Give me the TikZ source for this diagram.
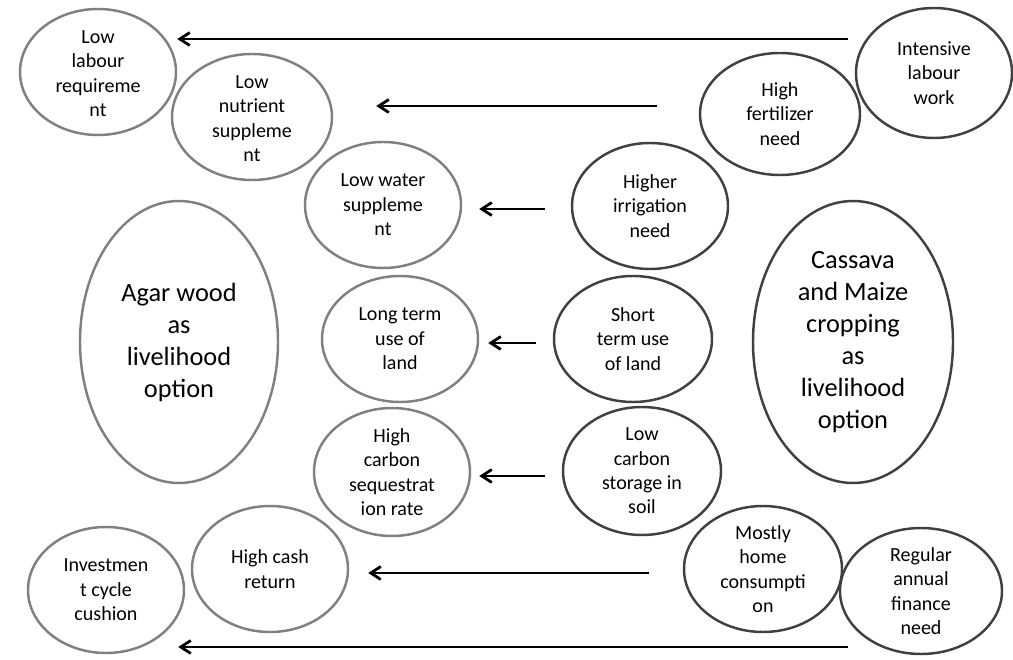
\documentclass[tikz,border=0pt]{standalone}
\usepackage{fontspec}
\setmainfont{Carlito}
\usetikzlibrary{arrows.meta,shapes.geometric}

\begin{document}
\begin{tikzpicture}[
    bub/.style={ellipse, draw=#1, line width=1.4pt, inner sep=0pt,
      minimum width=3.12cm, minimum height=2.52cm},
    agar/.style={bub=black!50},
    crop/.style={bub=black!75},
    txt/.style={align=center, inner sep=0pt, font=\fontsize{11.4}{13.9}\selectfont},
    big/.style={align=center, inner sep=0pt, font=\fontsize{15}{18.2}\selectfont},
    arr/.style={-{Straight Barb[length=2mm,width=2.6mm]}, line width=1.6pt}
  ]
    \useasboundingbox (0,0) rectangle (20.26,-13.2);

    % Agar wood side
    \node[agar, label={[txt,yshift=-1pt]center:Low\\labour\\requireme\\nt}] (llr) at (1.96,-1.44) {};
    \node[agar, minimum width=3.2cm, label={[txt,yshift=-1pt]center:Low\\nutrient\\suppleme\\nt}] (lns) at (5.04,-2.34) {};
    \node[agar, label={[txt]center:Low water\\suppleme\\nt}] (lws) at (7.66,-4.10) {};
    \node[agar, minimum width=3.96cm, minimum height=5.64cm,
      label={[big]center:Agar wood\\as\\livelihood\\option}] (agr) at (3.58,-6.84) {};
    \node[agar, label={[txt]center:Long term\\use of\\land}] (ltu) at (8.00,-6.78) {};
    \node[agar, minimum height=2.56cm, label={[txt]center:High\\carbon\\sequestrat\\ion rate}] (hcs) at (7.84,-9.44) {};
    \node[agar, label={[txt]center:High cash\\return}] (hcr) at (5.40,-11.38) {};
    \node[agar, label={[txt]center:Investmen\\t cycle\\cushion}] (icc) at (2.12,-11.80) {};

    % Cassava and maize side
    \node[crop, minimum height=2.6cm, label={[txt]center:Intensive\\labour\\work}] (ilw) at (18.68,-1.46) {};
    \node[crop, minimum width=3.2cm, minimum height=2.44cm, label={[txt]center:High\\fertilizer\\need}] (hfn) at (15.60,-2.28) {};
    \node[crop, label={[txt]center:Higher\\irrigation\\need}] (hin) at (13.00,-4.12) {};
    \node[crop, minimum width=4cm, minimum height=5.64cm,
      label={[big]center:Cassava\\and Maize\\cropping\\as\\livelihood\\option}] (cas) at (17.06,-6.84) {};
    \node[crop, minimum width=3.16cm, label={[txt]center:Short\\term use\\of land}] (stu) at (12.66,-6.78) {};
    \node[crop, minimum width=3.16cm, minimum height=2.56cm, label={[txt]center:Low\\carbon\\storage in\\soil}] (lcs) at (12.84,-9.42) {};
    \node[crop, minimum width=3.16cm, label={[txt]center:Mostly\\home\\consumpti\\on}] (mhc) at (15.26,-11.38) {};
    \node[crop, minimum width=3.24cm, label={[txt]center:Regular\\annual\\finance\\need}] (ran) at (18.42,-11.82) {};

    % arrow starts
    \coordinate (a1) at ([shift={(-0.14,0.68)}]ilw.west);
    \coordinate (a2) at ([shift={(-0.84,0.16)}]hfn.west);
    \coordinate (a3) at ([shift={(-0.52,-0.06)}]hin.west);
    \coordinate (a4) at ([shift={(-0.34,-0.08)}]stu.west);
    \coordinate (a5) at ([shift={(-0.34,-0.10)}]lcs.west);
    \coordinate (a6) at ([shift={(-0.68,-0.08)}]mhc.west);
    \coordinate (a7) at ([shift={(0.18,-1.12)}]ran.west);

    \draw[arr] (a1) -- (llr.east |- a1);
    \draw[arr, shorten >=0.86cm] (a2) -- (lns.east |- a2);
    \draw[arr, shorten >=0.34cm] (a3) -- (lws.east |- a3);
    \draw[arr, shorten >=0.18cm] (a4) -- (ltu.east |- a4);
    \draw[arr, shorten >=0.16cm] (a5) -- (hcs.east |- a5);
    \draw[arr, shorten >=0.38cm] (a6) -- (hcr.east |- a6);
    \draw[arr, shorten >=-0.14cm] (a7) -- (icc.east |- a7);
  \end{tikzpicture}
\end{document}
